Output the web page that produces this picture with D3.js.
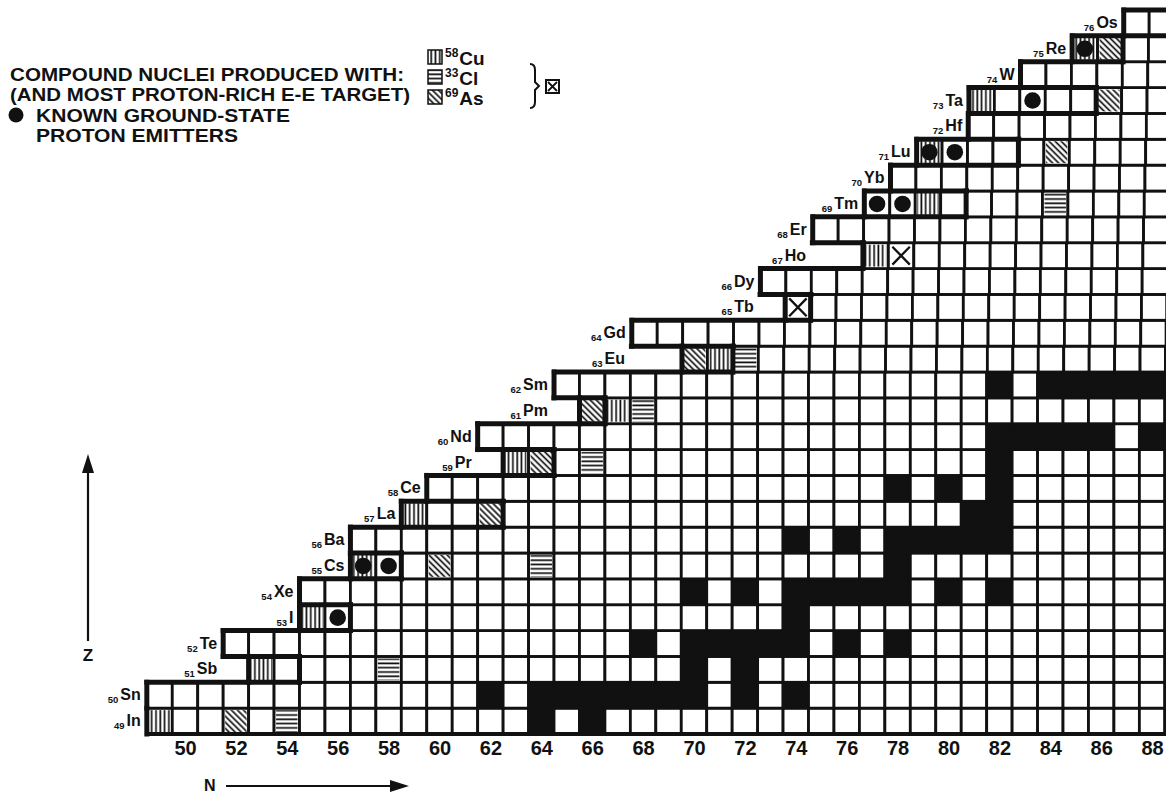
<!DOCTYPE html>
<html>
<head>
<meta charset="utf-8">
<script src="https://cdn.jsdelivr.net/npm/d3@7/dist/d3.min.js"></script>
<style>
  body { margin: 0; background: #fff; }
  svg { display: block; }
  text { font-family: "Liberation Sans", Arial, Helvetica, sans-serif; font-weight: bold; fill: #111; }
</style>
</head>
<body>
<svg id="chart" width="1166" height="794"></svg>
<script>
// proton number of each row, its symbol and the first neutron number drawn
var zValues = [49, 50, 51, 52, 53, 54, 55, 56, 57, 58, 59, 60, 61, 62, 63, 64, 65, 66, 67, 68, 69, 70, 71, 72, 73, 74, 75, 76];
var symbols = ['In', 'Sn', 'Sb', 'Te', 'I', 'Xe', 'Cs', 'Ba', 'La', 'Ce', 'Pr', 'Nd', 'Pm', 'Sm', 'Eu', 'Gd', 'Tb', 'Dy', 'Ho', 'Er', 'Tm', 'Yb', 'Lu', 'Hf', 'Ta', 'W', 'Re', 'Os'];
var firstN = [49, 49, 53, 52, 55, 55, 57, 57, 59, 60, 63, 62, 66, 65, 70, 68, 74, 73, 77, 75, 77, 78, 79, 81, 81, 83, 85, 87];
// odd rows: last N inside the heavy box (even rows: null)
var boxLastN = [48, null, 54, null, 56, null, 58, null, 62, null, 64, null, 66, null, 71, null, 74, null, 76, null, 80, null, 82, null, 85, null, 86, null];
var lastN = 89;

// stable nuclei (black squares): [Z, [N...]]
var stableCells = [
    [49, [64, 66]],
    [50, [62, 64, 65, 66, 67, 68, 69, 70, 72, 74]],
    [51, [70, 72]],
    [52, [68, 70, 71, 72, 73, 74, 76, 78]],
    [53, [74]],
    [54, [70, 72, 74, 75, 76, 77, 78, 80, 82]],
    [55, [78]],
    [56, [74, 76, 78, 79, 80, 81, 82]],
    [57, [81, 82]],
    [58, [78, 80, 82]],
    [59, [82]],
    [60, [82, 83, 84, 85, 86, 88]],
    [62, [82, 84, 85, 86, 87, 88]]
];

// compound nuclei [Z, N]
var cu58 = [[49, 49], [51, 53], [53, 55], [55, 57], [57, 59], [59, 63], [61, 67], [63, 71], [67, 77], [69, 79], [71, 79], [73, 81], [75, 85]];
var cl33 = [[49, 54], [51, 58], [55, 64], [59, 66], [61, 68], [63, 72], [69, 84]];
var as69 = [[49, 52], [55, 60], [57, 62], [59, 64], [61, 66], [63, 70], [71, 84], [73, 86], [75, 86]];
var clAndAs = [[65, 74], [67, 78]];
var emitters = [[53, 56], [55, 57], [55, 58], [69, 77], [69, 78], [71, 79], [71, 80], [73, 83], [75, 85]];

var tickN = [50, 52, 54, 56, 58, 60, 62, 64, 66, 68, 70, 72, 74, 76, 78, 80, 82, 84, 86, 88];

var svg = d3.select('#chart');
var cellW = 25.45;
var xScale = d3.scaleLinear().domain([48.5, 89.5]).range([185 - 1.5 * cellW, 185 + 39.5 * cellW]);
var yScale = d3.scaleLinear().domain([76.5, 48.5]).range([10, 734]);
var rowH = yScale(0) - yScale(1);

// the printed grid leans a little to the right in its upper rows
function lean(z) { return z > 62 ? (z - 62) * 0.7 : 0; }
function px(n, z) { return xScale(n) + lean(z); }

// hatch patterns
var defs = svg.append('defs');
function hatch(id, transform) {
    var p = defs.append('pattern')
        .attr('id', id)
        .attr('patternUnits', 'userSpaceOnUse')
        .attr('width', 4.3)
        .attr('height', 4.3);
    if (transform) p.attr('patternTransform', transform);
    p.append('rect').attr('width', 4.3).attr('height', 4.3).attr('fill', '#fff');
    p.append('line')
        .attr('x1', 1.2).attr('x2', 1.2)
        .attr('y1', -1).attr('y2', 5.3)
        .attr('stroke', '#111')
        .attr('stroke-width', 1.7);
}
hatch('cu', null);
hatch('cl', 'rotate(90)');
hatch('as', 'rotate(-45)');

// cells
var blackKey = {};
stableCells.forEach(function (row) {
    row[1].forEach(function (n) { blackKey[row[0] + '_' + n] = true; });
});
var cells = [];
zValues.forEach(function (z, i) {
    for (var n = firstN[i]; n <= lastN; n++) {
        cells.push({ z: z, n: n, black: !!blackKey[z + '_' + n] });
    }
});

var grid = svg.append('g');
grid.selectAll('.cell')
    .data(cells)
    .enter()
    .append('rect')
    .attr('class', 'cell')
    .attr('x', d => px(d.n - 0.5, d.z))
    .attr('y', d => yScale(d.z + 0.5))
    .attr('width', cellW)
    .attr('height', rowH)
    .attr('fill', d => d.black ? '#111' : '#fff')
    .attr('stroke', '#111')
    .attr('stroke-width', 2.8);

function hatchCells(list, id) {
    grid.selectAll('.h-' + id)
        .data(list)
        .enter()
        .append('rect')
        .attr('class', 'h-' + id)
        .attr('x', d => px(d[1] - 0.5, d[0]) + 2)
        .attr('y', d => yScale(d[0] + 0.5) + 2)
        .attr('width', cellW - 4)
        .attr('height', rowH - 4)
        .attr('fill', 'url(#' + id + ')');
}
hatchCells(cu58, 'cu');
hatchCells(cl33, 'cl');
hatchCells(as69, 'as');

// crossed boxes (both targets)
clAndAs.forEach(function (d) {
    var x0 = px(d[1] - 0.5, d[0]) + 4, x1 = px(d[1] + 0.5, d[0]) - 4;
    var y0 = yScale(d[0] + 0.5) + 4, y1 = yScale(d[0] - 0.5) - 4;
    grid.append('path')
        .attr('d', 'M' + x0 + ',' + y0 + 'L' + x1 + ',' + y1 + 'M' + x1 + ',' + y0 + 'L' + x0 + ',' + y1)
        .attr('stroke', '#111')
        .attr('stroke-width', 2.3)
        .attr('fill', 'none');
});

// proton emitters
grid.selectAll('.dot')
    .data(emitters)
    .enter()
    .append('circle')
    .attr('class', 'dot')
    .attr('cx', d => px(d[1], d[0]))
    .attr('cy', d => yScale(d[0]))
    .attr('r', 8.3)
    .attr('fill', '#111');

// heavy outline of the proton-rich edge
var heavyH = [], heavyV = [];
zValues.forEach(function (z, i) {
    if (z % 2 === 1) {
        heavyV.push({ n: boxLastN[i] + 0.5, z: z });
        if (boxLastN[i] >= firstN[i]) heavyV.push({ n: firstN[i] - 0.5, z: z });
    } else {
        heavyV.push({ n: firstN[i] - 0.5, z: z });
        if (i + 1 < zValues.length) {
            heavyH.push({ b: z + 0.5, n0: Math.min(firstN[i], firstN[i + 1]) - 0.5, n1: boxLastN[i + 1] + 0.5 });
        } else {
            heavyH.push({ b: z + 0.5, n0: firstN[i] - 0.5, n1: lastN + 0.5 });
            heavyH.push({ b: z - 0.5, n0: boxLastN[i - 1] + 0.5, n1: lastN + 0.5 });
        }
        heavyH.push({ b: z - 0.5, n0: Math.min(firstN[i], firstN[i - 1]) - 0.5, n1: boxLastN[i - 1] + 0.5 });
    }
});
function leanB(b) { return (lean(b - 0.5) + lean(b + 0.5)) / 2; }
var heavy = svg.append('g')
    .attr('stroke', '#111')
    .attr('stroke-width', 5)
    .attr('stroke-linecap', 'square')
    .attr('fill', 'none');
heavy.selectAll('.hh')
    .data(heavyH.filter(d => d.n1 > d.n0))
    .enter()
    .append('line')
    .attr('x1', d => xScale(d.n0) + leanB(d.b)).attr('x2', d => xScale(d.n1) + leanB(d.b))
    .attr('y1', d => yScale(d.b)).attr('y2', d => yScale(d.b));
heavy.selectAll('.hv')
    .data(heavyV)
    .enter()
    .append('line')
    .attr('x1', d => px(d.n, d.z)).attr('x2', d => px(d.n, d.z))
    .attr('y1', d => yScale(d.z + 0.5)).attr('y2', d => yScale(d.z - 0.5));
// bottom frame
svg.append('line')
    .attr('x1', xScale(48.5)).attr('x2', xScale(lastN + 0.5))
    .attr('y1', yScale(48.5)).attr('y2', yScale(48.5))
    .attr('stroke', '#111').attr('stroke-width', 3.8);

// element labels
var labels = svg.append('g');
zValues.forEach(function (z, i) {
    var anchor = (z % 2 === 1 && i + 1 < zValues.length) ? Math.min(firstN[i], firstN[i + 1]) : firstN[i];
    var t = labels.append('text')
        .attr('x', px(anchor - 0.5, z) - 6)
        .attr('y', yScale(z) + 5)
        .attr('text-anchor', 'end');
    t.append('tspan').attr('font-size', 9.5).attr('dy', 3).text(z);
    t.append('tspan').attr('font-size', 16).attr('dy', -3).attr('dx', 2).text(symbols[i]);
});

// N axis labels
var xAxis = d3.axisBottom(xScale)
    .tickValues(tickN)
    .tickSize(0)
    .tickPadding(0)
    .tickFormat(d3.format('d'));
var gAxis = svg.append('g')
    .attr('transform', 'translate(0,' + (yScale(48.5) + 7) + ')')
    .call(xAxis);
gAxis.select('.domain').remove();
gAxis.selectAll('text')
    .attr('font-size', 20)
    .attr('font-family', '"Liberation Sans", Arial, sans-serif')
    .attr('font-weight', 'bold')
    .attr('fill', '#111');

// axis arrows
svg.append('text').attr('x', 204).attr('y', 785).attr('font-size', 16)
    .attr('dominant-baseline', 'central').text('N');
svg.append('line').attr('x1', 226).attr('x2', 392).attr('y1', 786).attr('y2', 786)
    .attr('stroke', '#111').attr('stroke-width', 2.2);
svg.append('path').attr('d', 'M390,780L409,786L390,792Z').attr('fill', '#111');

svg.append('text').attr('x', 88).attr('y', 661).attr('font-size', 17).attr('text-anchor', 'middle').text('Z');
svg.append('line').attr('x1', 88).attr('x2', 88).attr('y1', 641).attr('y2', 466)
    .attr('stroke', '#111').attr('stroke-width', 2.2);
svg.append('path').attr('d', 'M82,473L88,454L94,473Z').attr('fill', '#111');

// legend
var legend = svg.append('g');
legend.append('text').attr('x', 10).attr('y', 80.5).attr('font-size', 17.5)
    .attr('textLength', 394).attr('lengthAdjust', 'spacingAndGlyphs')
    .text('COMPOUND NUCLEI PRODUCED WITH:');
legend.append('text').attr('x', 10).attr('y', 101).attr('font-size', 17.5)
    .attr('textLength', 400).attr('lengthAdjust', 'spacingAndGlyphs')
    .text('(AND MOST PROTON-RICH E-E TARGET)');
legend.append('circle').attr('cx', 16).attr('cy', 115).attr('r', 7.5).attr('fill', '#111');
legend.append('text').attr('x', 36).attr('y', 121.5).attr('font-size', 17.5)
    .attr('textLength', 254).attr('lengthAdjust', 'spacingAndGlyphs')
    .text('KNOWN GROUND-STATE');
legend.append('text').attr('x', 36).attr('y', 142).attr('font-size', 17.5)
    .attr('textLength', 202).attr('lengthAdjust', 'spacingAndGlyphs')
    .text('PROTON EMITTERS');

var legendItems = [['cu', '58', 'Cu'], ['cl', '33', 'Cl'], ['as', '69', 'As']];
legendItems.forEach(function (d, i) {
    var cy = 57 + i * 20;
    legend.append('rect').attr('x', 428).attr('y', cy - 7).attr('width', 14).attr('height', 14)
        .attr('fill', 'url(#' + d[0] + ')').attr('stroke', '#111').attr('stroke-width', 1.5);
    var t = legend.append('text').attr('x', 445).attr('y', cy + 8);
    t.append('tspan').attr('font-size', 12).attr('dy', -8).text(d[1]);
    t.append('tspan').attr('font-size', 19).attr('dy', 8).attr('dx', 1).text(d[2]);
});
legend.append('path')
    .attr('d', 'M530,64Q535,64 535,70L535,82L539,86L535,90L535,102Q535,108 530,108')
    .attr('stroke', '#111').attr('stroke-width', 2).attr('fill', 'none');
legend.append('rect').attr('x', 546).attr('y', 80).attr('width', 13).attr('height', 13)
    .attr('fill', '#fff').attr('stroke', '#111').attr('stroke-width', 2);
legend.append('path').attr('d', 'M548,82L557,91M557,82L548,91')
    .attr('stroke', '#111').attr('stroke-width', 1.8);
</script>
</body>
</html>
